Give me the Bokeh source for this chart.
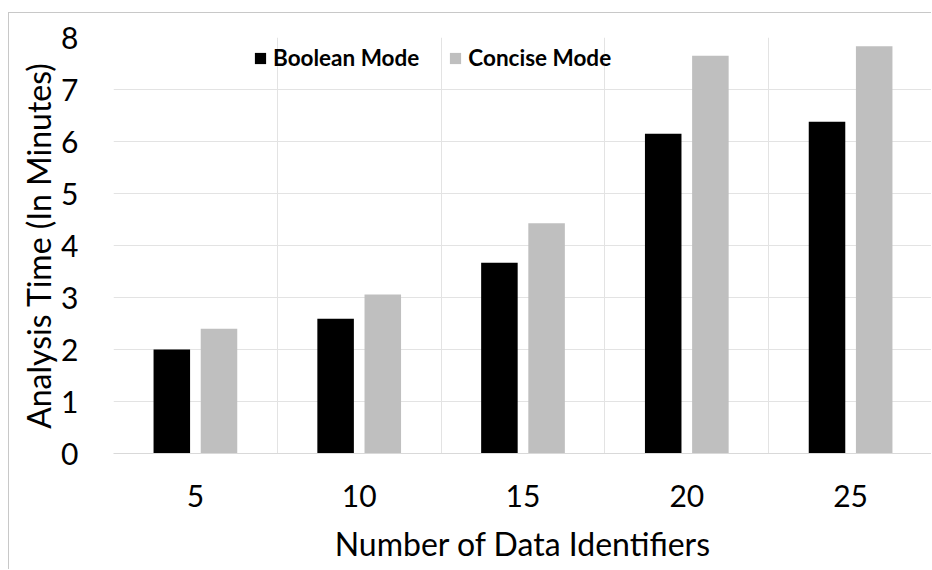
from bokeh.plotting import figure
from bokeh.models import FixedTicker, Legend, LegendItem, Range1d, ColumnDataSource
from bokeh.embed import file_html
from bokeh.resources import INLINE

# ---- data ----
categories = ["5", "10", "15", "20", "25"]
boolean_mode = [2.0, 2.59, 3.67, 6.15, 6.38]
concise_mode = [2.40, 3.06, 4.43, 7.65, 7.83]
y_ticks = [0, 1, 2, 3, 4, 5, 6, 7, 8]
series_names = ["Boolean Mode", "Concise Mode"]
series_colors = ["#000000", "#bfbfbf"]

# ---- layout helpers ----
n = len(categories)
centers = [i + 0.5 for i in range(n)]
OFF = 0.144
BAR_W = 0.223

src = ColumnDataSource(dict(
    xb=[c - OFF for c in centers],
    xc=[c + OFF for c in centers],
    boolean=boolean_mode,
    concise=concise_mode,
))

FONT = "Lato"

p = figure(width=923, height=557, output_backend="svg", toolbar_location=None,
           x_range=Range1d(0, 5.0), y_range=Range1d(0, 8),
           min_border_left=104, min_border_top=24, min_border_bottom=117,
           min_border_right=0, margin=(12, 0, 0, 8))
p.styles = {"border-left": "1px solid #c8c8c8", "border-top": "1px solid #c8c8c8"}
p.outline_line_color = None
p.background_fill_color = "white"
p.border_fill_color = "white"

r1 = p.vbar(x="xb", top="boolean", width=BAR_W, source=src,
            fill_color=series_colors[0], line_color=None)
r2 = p.vbar(x="xc", top="concise", width=BAR_W, source=src,
            fill_color=series_colors[1], line_color=None)

# grids
p.xgrid[0].ticker = FixedTicker(ticks=list(range(n + 1)))
p.xgrid[0].grid_line_color = "#e3e3e3"
p.ygrid[0].ticker = FixedTicker(ticks=y_ticks)
p.ygrid[0].grid_line_color = "#e3e3e3"

# x axis
xa = p.xaxis[0]
xa.ticker = FixedTicker(ticks=centers)
xa.major_label_overrides = {c: lab for c, lab in zip(centers, categories)}
xa.axis_line_color = "#d9d9d9"
xa.major_tick_line_color = None
xa.minor_tick_line_color = None
xa.major_label_text_font = FONT
xa.major_label_text_font_size = "30px"
xa.major_label_text_color = "black"
xa.major_label_standoff = 25
xa.axis_label = "Number of Data Identifiers"
xa.axis_label_text_font = FONT
xa.axis_label_text_font_size = "32px"
xa.axis_label_text_font_style = "normal"
xa.axis_label_text_color = "black"
xa.axis_label_standoff = 14

# y axis
ya = p.yaxis[0]
ya.ticker = FixedTicker(ticks=y_ticks)
ya.axis_line_color = None
ya.major_tick_line_color = None
ya.minor_tick_line_color = None
ya.major_label_text_font = FONT
ya.major_label_text_font_size = "30px"
ya.major_label_text_color = "black"
ya.major_label_standoff = 29
ya.axis_label = "Analysis Time (In Minutes)"
ya.axis_label_text_font = FONT
ya.axis_label_text_font_size = "32px"
ya.axis_label_text_font_style = "normal"
ya.axis_label_text_color = "black"
ya.axis_label_standoff = 0

legend = Legend(items=[LegendItem(label=series_names[0], renderers=[r1]),
                       LegendItem(label=series_names[1], renderers=[r2])],
                orientation="horizontal", location=(140, 382),
                glyph_width=14, glyph_height=14, label_standoff=6, spacing=29,
                padding=0, margin=0, border_line_color=None,
                background_fill_alpha=0,
                label_text_font=FONT, label_text_color="black",
                label_text_font_style="bold", label_text_font_size="22.5px")
p.add_layout(legend)

open("out.html", "w").write(file_html(p, INLINE))
